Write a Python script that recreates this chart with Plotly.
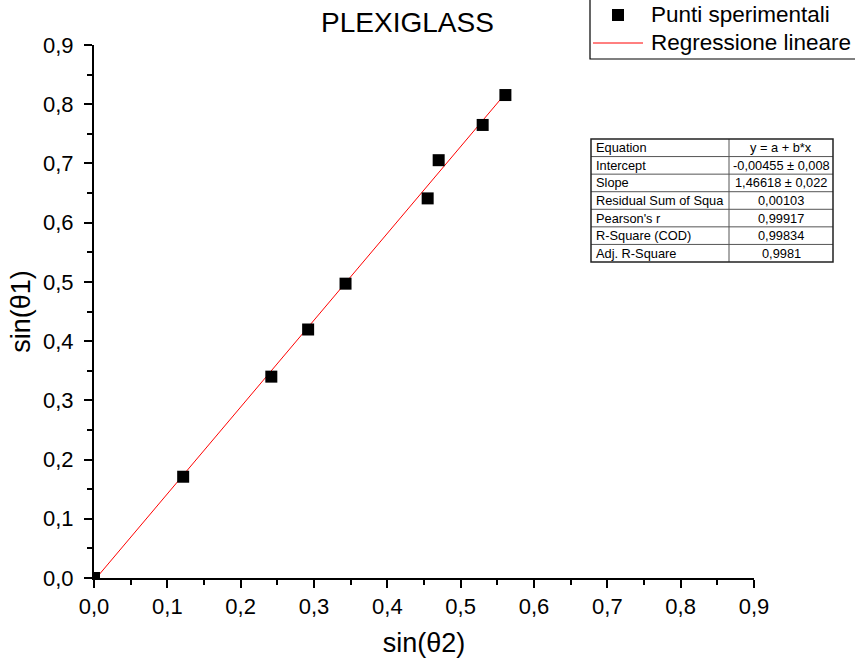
import plotly.graph_objects as go

# ---- data ----
x_sin_theta2 = [0.0, 0.1216, 0.2418, 0.2920, 0.3430, 0.4550, 0.4700, 0.5300, 0.5610]
y_sin_theta1 = [0.0, 0.1710, 0.3400, 0.4196, 0.4970, 0.6410, 0.7055, 0.7650, 0.8155]

fit_intercept = -0.00455
fit_slope = 1.46618

table_labels = ["Equation", "Intercept", "Slope", "Residual Sum of Squa",
                "Pearson's r", "R-Square (COD)", "Adj. R-Square"]
table_values = ["y = a + b*x", "-0,00455 ± 0,008", "1,46618 ± 0,022", "0,00103",
                "0,99917", "0,99834", "0,9981"]

legend_labels = ["Punti sperimentali", "Regressione lineare"]

tick_vals = [0.0, 0.1, 0.2, 0.3, 0.4, 0.5, 0.6, 0.7, 0.8, 0.9]

FONT = "Liberation Sans, Arial, sans-serif"
W, H = 855, 664
PL, PR, PT, PB = 94, 754, 45, 578


def xp(px):
    return (px - PL) / (PR - PL)


def yp(py):
    return (PB - py) / (PB - PT)


fit_x = [min(x_sin_theta2), max(x_sin_theta2)]
fit_y = [fit_intercept + fit_slope * v for v in fit_x]

fig = go.Figure()
fig.add_trace(go.Scatter(
    x=fit_x, y=fit_y, mode="lines", name=legend_labels[1],
    line=dict(color="#ff0000", width=1), showlegend=False,
))
fig.add_trace(go.Scatter(
    x=x_sin_theta2, y=y_sin_theta1, mode="markers", name=legend_labels[0],
    marker=dict(symbol="square", size=12, color="black"), showlegend=False,
))

axis_common = dict(
    range=[0, 0.9], tickvals=tick_vals, tickformat=".1f",
    showgrid=False, zeroline=False, showline=True, linecolor="black", linewidth=2,
    ticks="outside", ticklen=8, tickwidth=2, tickcolor="black",
    minor=dict(dtick=0.05, ticks="outside", ticklen=5, tickwidth=2, tickcolor="black"),
    tickfont=dict(family=FONT, size=22, color="black"),
    automargin=False,
)

fig.update_layout(
    width=W, height=H,
    margin=dict(l=PL, r=W - PR, t=PT, b=H - PB, autoexpand=False),
    paper_bgcolor="white", plot_bgcolor="white",
    separators=",.",
    font=dict(family=FONT, color="black"),
    title=dict(text="PLEXIGLASS", x=407.5 / W, xanchor="center", xref="container",
               y=1 - 22 / H, yanchor="middle", yref="container",
               font=dict(family=FONT, size=28, color="black")),
    xaxis=dict(**axis_common, ticklabelstandoff=0,
               title=dict(text="sin(θ2)", font=dict(family=FONT, size=27), standoff=15)),
    yaxis=dict(**axis_common, ticklabelstandoff=6,
               title=dict(text="sin(θ1)", font=dict(family=FONT, size=27), standoff=5)),
    showlegend=False,
)

shapes = []

# ---- legend box (drawn) ----
shapes.append(dict(type="rect", xref="paper", yref="paper", x0=xp(590), x1=xp(860),
                   y0=yp(59), y1=yp(-2), line=dict(color="black", width=1.2),
                   fillcolor="white", layer="above"))
shapes.append(dict(type="rect", xref="paper", yref="paper", x0=xp(612), x1=xp(624),
                   y0=yp(21), y1=yp(9), line=dict(width=0), fillcolor="black"))
shapes.append(dict(type="line", xref="paper", yref="paper", x0=xp(593), x1=xp(643),
                   y0=yp(43), y1=yp(43), line=dict(color="#ff0000", width=1)))
for lab, yc in zip(legend_labels, [15, 43]):
    fig.add_annotation(x=xp(649), y=yp(yc), xref="paper", yref="paper", text=lab,
                       showarrow=False, xanchor="left", yanchor="middle",
                       font=dict(family=FONT, size=22.5, color="black"))

# ---- fit results table ----
t_left, t_mid, t_right = 591, 729, 833
t_top, t_bot = 139, 262
n = len(table_labels)
rh = (t_bot - t_top) / n
for i in range(1, n):
    yy = t_top + i * rh
    shapes.append(dict(type="line", xref="paper", yref="paper", x0=xp(t_left), x1=xp(t_right),
                       y0=yp(yy), y1=yp(yy), line=dict(color="#555", width=1)))
shapes.append(dict(type="line", xref="paper", yref="paper", x0=xp(t_mid), x1=xp(t_mid),
                   y0=yp(t_top), y1=yp(t_bot), line=dict(color="#555", width=1)))
shapes.append(dict(type="rect", xref="paper", yref="paper", x0=xp(t_left), x1=xp(t_right),
                   y0=yp(t_top), y1=yp(t_bot), line=dict(color="#222", width=1.5)))
fig.update_layout(shapes=shapes)

for i, (lab, val) in enumerate(zip(table_labels, table_values)):
    yc = t_top + (i + 0.5) * rh
    fig.add_annotation(x=xp(t_left + 3), y=yp(yc), xref="paper", yref="paper", text=lab,
                       showarrow=False, xanchor="left", yanchor="middle",
                       font=dict(family=FONT, size=12.8, color="black"))
    fig.add_annotation(x=xp((t_mid + t_right) / 2), y=yp(yc), xref="paper", yref="paper", text=val,
                       showarrow=False, xanchor="center", yanchor="middle",
                       font=dict(family=FONT, size=12.8, color="black"))

fig.write_html("out.html", config={"displayModeBar": False},
               post_script="document.body.style.margin='0';")
